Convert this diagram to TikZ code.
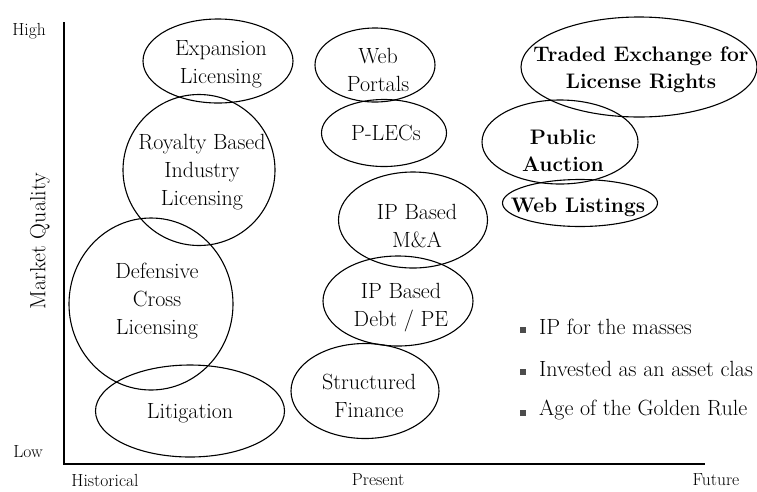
\documentclass[tikz,border=0pt]{standalone}
\usetikzlibrary{shapes.geometric}
\begin{document}
\begin{tikzpicture}[x=1pt,y=-1pt,
  bub/.style={draw,ellipse,line width=1.1pt,inner sep=0pt},
  btxt/.style={align=center,inner sep=0pt,font=\fontsize{22}{28}\selectfont},
  bbtxt/.style={align=center,inner sep=0pt,font=\fontsize{21}{27}\selectfont\bfseries},
  axlab/.style={font=\fontsize{17.5}{19}\selectfont},
  bul/.style={anchor=west,inner sep=0pt,font=\fontsize{22}{24}\selectfont},
  sq/.style={fill=black!70,minimum size=5.5pt,inner sep=0pt}]
\useasboundingbox (0,0) rectangle (757,491);
% axes
\coordinate (top) at (64,22);
\coordinate (orig) at (64,464);
\coordinate (xend) at (705,464);
\draw[line width=1.2pt] (top) -- (orig) -- (xend);
\node[axlab] (high) at (29,31) {High};
\node[axlab] (low) at (28,452) {Low};
\node[axlab] (hist) at (105,480) {Historical};
\node[axlab] (pres) at (378,480) {Present};
\node[axlab] (fut) at (716,480) {Future};
\node[rotate=90,font=\fontsize{22}{24}\selectfont] (mq) at (40,241) {Market Quality};
% left column
\node[bub,minimum width=150,minimum height=84] (exp) at (218,61) {};
\node[btxt] (expt) at (221,64) {Expansion\\Licensing};
\node[bub,minimum width=152,minimum height=151] (roy) at (199,170) {};
\node[btxt] (royt) at (202,172) {Royalty Based\\Industry\\Licensing};
\node[bub,minimum width=164,minimum height=172] (def) at (151,304) {};
\node[btxt] (deft) at (157,301) {Defensive\\Cross\\Licensing};
\node[bub,minimum width=189,minimum height=92] (lit) at (190,411) {};
\node[btxt] (litt) at (190,413) {Litigation};
% middle column
\node[bub,minimum width=120,minimum height=74] (web) at (375,65) {};
\node[btxt] (webt) at (378,70) {Web\\Portals};
\node[bub,minimum width=125,minimum height=67] (plec) at (384,133) {};
\node[btxt] (plect) at (386,133) {P-LECs};
\node[bub,minimum width=149,minimum height=96] (ma) at (413,220) {};
\node[btxt] (mat) at (417,226) {IP Based\\M\&A};
\node[bub,minimum width=150,minimum height=90] (debt) at (398,301) {};
\node[btxt] (debtt) at (401,308) {IP Based\\Debt / PE};
\node[bub,minimum width=148,minimum height=95] (sf) at (365,391) {};
\node[btxt] (sft) at (369,396) {Structured\\Finance};
% right column
\node[bub,minimum width=236,minimum height=100] (tex) at (639,67) {};
\node[bbtxt] (text) at (641,70) {Traded Exchange for\\License Rights};
\node[bub,minimum width=156,minimum height=84] (pa) at (560,142) {};
\node[bbtxt] (pat) at (563,151) {Public\\Auction};
\node[bub,minimum width=155,minimum height=47] (wl) at (580,203) {};
\node[bbtxt] (wlt) at (578,207) {Web Listings};
% bullets
\node[sq] (s1) at (523,330) {};
\node[sq] (s2) at (523,372) {};
\node[sq] (s3) at (523,413) {};
\node[bul] (b1) at (539,327) {IP for the masses};
\node[bul] (b2) at (539,369) {Invested as an asset clas};
\node[bul] (b3) at (539,410) {Age of the Golden Rule};
\end{tikzpicture}
\end{document}
